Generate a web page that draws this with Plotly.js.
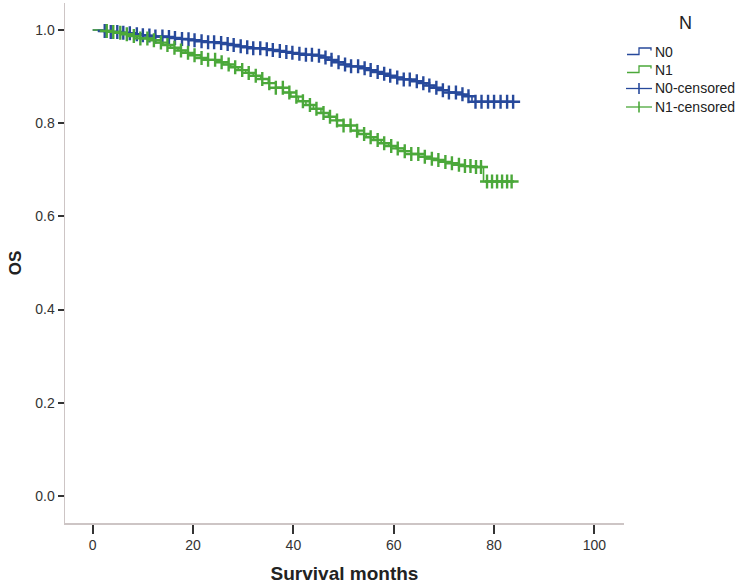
<!DOCTYPE html>
<html>
<head>
<meta charset="utf-8">
<script src="https://cdn.plot.ly/plotly-3.0.1.min.js"></script>
<style>html,body{margin:0;padding:0;background:#fff;}#chart{width:745px;height:586px;}</style>
</head>
<body>
<div id="chart"></div>
<script>
// Kaplan-Meier step data (months, survival)
const n0Times = [0, 2, 3.5, 5, 6.5, 8, 9.5, 11, 12.5, 14, 15.5, 17, 18.5, 20, 21.5, 23, 24.5, 26, 27.5, 29, 30.5, 32, 33.5, 35, 36.5, 38, 39.5, 41, 42.5, 44, 45.5, 47, 48.5, 50, 51.5, 53, 54.5, 56, 57.5, 59, 60.5, 62, 63.5, 65, 66.5, 68, 69.5, 71, 72.5, 74, 75.6, 83.9];
const n0Surv  = [1.0, 0.998, 0.996, 0.994, 0.993, 0.991, 0.989, 0.988, 0.986, 0.985, 0.983, 0.981, 0.980, 0.978, 0.976, 0.974, 0.972, 0.970, 0.968, 0.965, 0.963, 0.961, 0.959, 0.957, 0.955, 0.953, 0.951, 0.949, 0.947, 0.945, 0.941, 0.936, 0.931, 0.926, 0.922, 0.918, 0.914, 0.910, 0.906, 0.902, 0.898, 0.894, 0.890, 0.886, 0.881, 0.876, 0.871, 0.866, 0.862, 0.858, 0.846, 0.846];

const n1Times = [0, 2, 3.5, 5, 6.5, 8, 9.5, 11, 12.5, 14, 15.5, 17, 18.5, 20, 21.5, 23, 24.5, 26, 27.5, 29, 30.5, 32, 33.5, 35, 36.5, 38, 39.5, 41, 42.5, 44, 45.5, 47, 48.5, 50, 51.5, 53, 54.5, 56, 57.5, 59, 60.5, 62, 63.5, 65, 66.5, 68, 69.5, 71, 72.5, 74, 75.5, 77.9, 83.5];
const n1Surv  = [1.0, 0.998, 0.996, 0.994, 0.991, 0.987, 0.982, 0.978, 0.973, 0.968, 0.962, 0.956, 0.951, 0.946, 0.940, 0.936, 0.931, 0.926, 0.920, 0.914, 0.908, 0.902, 0.895, 0.886, 0.876, 0.866, 0.857, 0.847, 0.839, 0.831, 0.822, 0.814, 0.806, 0.795, 0.784, 0.777, 0.770, 0.764, 0.757, 0.751, 0.746, 0.740, 0.734, 0.728, 0.724, 0.721, 0.717, 0.714, 0.711, 0.708, 0.706, 0.675, 0.675];

// Censoring times (months)
const n0Censored = [2.4, 3.6, 4.9, 6.1, 7.4, 8.8, 10.0, 11.3, 12.5, 13.9, 15.2, 16.4, 17.8, 19.1, 20.3, 21.7, 23.0, 24.2, 25.6, 26.9, 28.1, 29.5, 30.8, 32.0, 33.4, 34.7, 35.9, 37.3, 38.6, 39.8, 41.2, 42.5, 43.7, 45.1, 46.4, 47.6, 49.0, 50.3, 51.5, 52.9, 54.2, 55.4, 56.8, 58.1, 59.3, 60.7, 62.0, 63.2, 64.6, 65.9, 67.1, 68.5, 69.8, 71.0, 72.4, 73.7, 74.9, 76.3, 77.5, 78.8, 80.0, 81.3, 82.6, 83.8];
const n1Censored = [2.8, 4.1, 5.5, 6.8, 8.2, 9.5, 10.9, 12.2, 13.6, 14.9, 16.3, 17.6, 19.0, 20.3, 21.7, 23.0, 24.4, 25.7, 27.1, 28.4, 29.8, 31.1, 32.5, 33.8, 35.2, 36.5, 37.9, 39.2, 40.6, 41.9, 43.3, 44.6, 46.0, 47.3, 48.7, 50.0, 51.4, 52.7, 54.1, 55.4, 56.8, 58.1, 59.5, 60.8, 62.2, 63.5, 64.9, 66.2, 67.6, 68.9, 70.3, 71.6, 73.0, 74.2, 75.3, 76.4, 77.4, 78.6, 79.6, 80.6, 81.6, 82.6, 83.5];

const xTicks = [0, 20, 40, 60, 80, 100];
const yTicks = [0.0, 0.2, 0.4, 0.6, 0.8, 1.0];
const groupNames = ['N0', 'N1', 'N0-censored', 'N1-censored'];
const legendTitle = 'N';

const blue = '#27499b';
const green = '#4ba83a';
const font = 'Liberation Sans, Arial, sans-serif';

function stepAt(times, surv, t) {
  let v = surv[0];
  for (let i = 0; i < times.length; i++) { if (times[i] <= t) v = surv[i]; else break; }
  return v;
}

const traces = [
  {x: n0Times, y: n0Surv, mode: 'lines', line: {shape: 'hv', color: blue, width: 1.6}, name: groupNames[0], showlegend: false},
  {x: n1Times, y: n1Surv, mode: 'lines', line: {shape: 'hv', color: green, width: 1.6}, name: groupNames[1], showlegend: false},
  {x: n0Censored, y: n0Censored.map(t => stepAt(n0Times, n0Surv, t)), mode: 'markers', name: groupNames[2], showlegend: false,
   marker: {symbol: 'cross-thin', size: 10, color: blue, line: {width: 2.4, color: blue}}},
  {x: n1Censored, y: n1Censored.map(t => stepAt(n1Times, n1Surv, t)), mode: 'markers', name: groupNames[3], showlegend: false,
   marker: {symbol: 'cross-thin', size: 10, color: green, line: {width: 2.4, color: green}}}
];

// plot area: x 65..624 px, y 3..523 px
const L = 65, R = 624, T = 3, B = 523;
const px = v => (v - L) / (R - L);
const py = v => (B - v) / (B - T);

const itemY = [52, 70, 88.5, 107];
const colors = [blue, green, blue, green];
const shapes = [];
const annotations = [];
annotations.push({xref: 'paper', yref: 'paper', x: px(685), y: py(23), text: legendTitle, showarrow: false,
  xanchor: 'center', yanchor: 'middle', font: {family: font, size: 18, color: '#222'}});
for (let i = 0; i < 4; i++) {
  const yc = itemY[i];
  if (i < 2) {
    shapes.push({type: 'path', xref: 'paper', yref: 'paper',
      path: `M${px(627)},${py(yc + 2.5)} L${px(639)},${py(yc + 2.5)} L${px(639)},${py(yc - 4)} L${px(651)},${py(yc - 4)} L${px(651)},${py(yc - 1.5)}`,
      line: {color: colors[i], width: 1.3}});
  } else {
    shapes.push({type: 'line', xref: 'paper', yref: 'paper', x0: px(626), x1: px(652), y0: py(yc), y1: py(yc), line: {color: colors[i], width: 1.3}});
    shapes.push({type: 'line', xref: 'paper', yref: 'paper', x0: px(639), x1: px(639), y0: py(yc - 5.5), y1: py(yc + 5.5), line: {color: colors[i], width: 1.6}});
  }
  annotations.push({xref: 'paper', yref: 'paper', x: px(653), y: py(yc), text: groupNames[i], showarrow: false,
    xanchor: 'left', yanchor: 'middle', font: {family: font, size: 14, color: '#222'}});
}

const layout = {
  width: 745, height: 586,
  margin: {l: L, r: 745 - R, t: T, b: 586 - B},
  paper_bgcolor: '#fff', plot_bgcolor: '#fff',
  showlegend: false,
  font: {family: font, size: 14, color: '#333'},
  xaxis: {
    range: [-5.52, 105.9], tickvals: xTicks, ticktext: xTicks.map(String),
    showgrid: false, zeroline: false, showline: true, linecolor: '#cdc5c5', linewidth: 1.5,
    ticks: 'outside', ticklen: 9, tickwidth: 2, tickcolor: '#333',
    tickfont: {family: font, size: 14, color: '#333'},
    title: {text: 'Survival months', font: {family: font, size: 19, color: '#222', weight: 'bold'}, standoff: 14}
  },
  yaxis: {
    range: [-0.058, 1.058], tickvals: yTicks, ticktext: yTicks.map(v => v.toFixed(1)),
    showgrid: false, zeroline: false, showline: true, linecolor: '#cdc5c5', linewidth: 1.5,
    ticks: 'outside', ticklen: 6, tickwidth: 2, tickcolor: '#333',
    tickfont: {family: font, size: 14, color: '#333'},
    title: {text: 'OS', font: {family: font, size: 17, color: '#222', weight: 'bold'}, standoff: 9}
  },
  shapes: shapes,
  annotations: annotations
};

Plotly.newPlot('chart', traces, layout, {displayModeBar: false, staticPlot: true});
</script>
</body>
</html>
